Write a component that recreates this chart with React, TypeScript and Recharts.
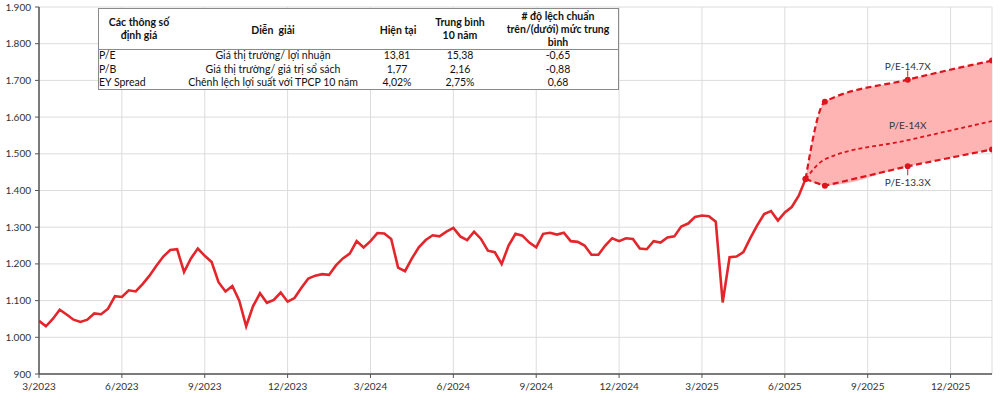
import { ComposedChart, Line, Area, XAxis, YAxis, CartesianGrid, LabelList } from 'recharts';

// VN-Index weekly closes (Mar 2023 -> late Jun 2025)
const vn2023 = [
  1045, 1030, 1050, 1075, 1062, 1048, 1042, 1048, 1065, 1063, 1078, 1112, 1110, 1128, 1125, 1145,
  1168, 1195, 1220, 1238, 1240, 1178, 1215, 1242, 1222, 1205, 1150, 1125, 1140, 1100, 1030, 1085,
  1120, 1094, 1102, 1122, 1097, 1107, 1135, 1160,
];
const vn2024 = [
  1168, 1172, 1170, 1196, 1215, 1228, 1262, 1245, 1262, 1284, 1283, 1268, 1190, 1180, 1215, 1245,
  1265, 1278, 1275, 1288, 1298, 1275, 1265, 1288, 1268, 1236, 1232, 1200, 1250, 1282, 1277, 1258,
  1245, 1282, 1285, 1280, 1285, 1262, 1260, 1250, 1225, 1225, 1250, 1270, 1262, 1270, 1268, 1242,
];
const vn2025 = [
  1240, 1262, 1258, 1272, 1275, 1302, 1310, 1328, 1332, 1330, 1315, 1095, 1218, 1220, 1232, 1270,
  1305, 1336, 1344, 1318, 1340, 1355, 1385, 1431,
];
const WEEK = 0.25; // in months

// P/E scenarios (months counted from 3/2023)
const projMonths = [27.75, 28.45, 31.45, 34.5];
const peHigh = [1431, 1642, 1702, 1754];
const peMid = [1431, 1485, 1537, 1589];
const peLow = [1431, 1413, 1466, 1512];
const highTags = ['', '', 'P/E-14.7X', ''];
const midTags = ['', '', 'P/E-14X', ''];
const lowTags = ['', '', 'P/E-13.3X', ''];

const quarterLabels = [
  '3/2023', '6/2023', '9/2023', '12/2023', '3/2024', '6/2024',
  '9/2024', '12/2024', '3/2025', '6/2025', '9/2025', '12/2025',
];
const yTicks = [900, 1000, 1100, 1200, 1300, 1400, 1500, 1600, 1700, 1800, 1900];

// valuation table
const tableMetric = ['P/E', 'P/B', 'EY Spread'];
const tableDesc = ['Giá thị trường/ lợi nhuận', 'Giá thị trường/ giá trị sổ sách', 'Chênh lệch lợi suất với TPCP 10 năm'];
const tableNow = ['13,81', '1,77', '4,02%'];
const tableAvg = ['15,38', '2,16', '2,75%'];
const tableStd = ['-0,65', '-0,88', '0,68'];

const closes = [...vn2023, ...vn2024, ...vn2025];
const data: any[] = closes.map((v, i) => ({ m: i * WEEK, vn: v }));
projMonths.forEach((m, i) => {
  const row = {
    m,
    high: peHigh[i],
    mid: peMid[i],
    low: peLow[i],
    band: [peLow[i], peHigh[i]],
    highTag: highTags[i],
    midTag: midTags[i],
    lowTag: lowTags[i],
  };
  if (i === 0) Object.assign(data[data.length - 1], row);
  else data.push(row);
});

const quarterTicks = quarterLabels.map((_, i) => i * 3);
const fmtMonth = (m: number) => quarterLabels[Math.round(m / 3)] ?? '';
const fmtVal = (v: number) =>
  v >= 1000 ? `${Math.floor(v / 1000)}.${String(v % 1000).padStart(3, '0')}` : String(v);

const FONT = 'Lato, "Open Sans", sans-serif';
const RED = '#e3262b';
const DASH_RED = '#dc141c';

const tagAbove = (props: any) => {
  const { x, y, value } = props;
  if (!value) return null;
  return (
    <g>
      <line x1={x} x2={x} y1={y - 3} y2={y - 9} stroke={DASH_RED} strokeWidth={1} />
      <text x={x} y={y - 14} textAnchor="middle" dominantBaseline="central" fontSize={10} fill="#333" fontFamily={FONT}>
        {value}
      </text>
    </g>
  );
};

const tagBelow = (props: any) => {
  const { x, y, value } = props;
  if (!value) return null;
  return (
    <g>
      <line x1={x} x2={x} y1={y + 3} y2={y + 9} stroke={DASH_RED} strokeWidth={1} />
      <text x={x} y={y + 16} textAnchor="middle" dominantBaseline="central" fontSize={10} fill="#333" fontFamily={FONT}>
        {value}
      </text>
    </g>
  );
};

const tagMid = (props: any) => {
  const { x, y, value } = props;
  if (!value) return null;
  return (
    <text x={x} y={y - 15} textAnchor="middle" dominantBaseline="central" fontSize={10} fill="#333" fontFamily={FONT}>
      {value}
    </text>
  );
};

function Cell({ cx, cy, children, bold, align }: any) {
  return (
    <div
      style={{
        position: 'absolute',
        left: cx,
        top: cy,
        transform: align === 'left' ? 'translate(0,-50%)' : 'translate(-50%,-50%)',
        whiteSpace: 'nowrap',
        textAlign: 'center',
        fontWeight: bold ? 700 : 400,
        lineHeight: '13px',
      }}
    >
      {children}
    </div>
  );
}

function ValuationTable() {
  const rowsY = [55, 68.5, 82];
  return (
    <div
      style={{
        position: 'absolute',
        left: 98,
        top: 8,
        width: 519,
        height: 80,
        background: '#fff',
        border: '1px solid #8a8a8a',
        fontFamily: FONT,
        fontSize: 10.5,
        color: '#111',
      }}
    >
      <div style={{ position: 'absolute', left: 0, right: 0, top: 40, borderTop: '1px solid #8a8a8a' }} />
      <Cell cx={40} cy={20} bold>Các thông số<br />định giá</Cell>
      <Cell cx={174} cy={21} bold>Diễn&nbsp; giải</Cell>
      <Cell cx={299} cy={21} bold>Hiện tại</Cell>
      <Cell cx={361} cy={20} bold>Trung bình<br />10 năm</Cell>
      <Cell cx={459} cy={20} bold># độ lệch chuẩn<br />trên/(dưới) mức trung<br />bình</Cell>
      {tableMetric.map((t, i) => (
        <div key={t}>
          <Cell cx={0} cy={rowsY[i] - 9} align="left">{t}</Cell>
          <Cell cx={174} cy={rowsY[i] - 9}>{tableDesc[i]}</Cell>
          <Cell cx={298} cy={rowsY[i] - 9}>{tableNow[i]}</Cell>
          <Cell cx={361} cy={rowsY[i] - 9}>{tableAvg[i]}</Cell>
          <Cell cx={459} cy={rowsY[i] - 9}>{tableStd[i]}</Cell>
        </div>
      ))}
    </div>
  );
}

export default function App() {
  return (
    <div style={{ position: 'absolute', left: 0, top: 0, width: 1000, height: 397, background: '#fff' }}>
      <ComposedChart width={1000} height={397} data={data} margin={{ top: 7, right: 8, left: 0, bottom: 3 }}>
        <CartesianGrid stroke="#dcdcdc" strokeWidth={1} />
        <XAxis
          type="number"
          dataKey="m"
          domain={[0, 34.5]}
          ticks={quarterTicks}
          interval={0}
          allowDataOverflow
          tickFormatter={fmtMonth}
          height={20}
          tickSize={4}
          tickMargin={5}
          tick={{ fontSize: 10, fill: '#333', fontFamily: FONT }}
          axisLine={{ stroke: '#555', strokeWidth: 1.5 }}
          tickLine={{ stroke: '#555' }}
        />
        <YAxis
          type="number"
          domain={[900, 1900]}
          ticks={yTicks}
          interval={0}
          width={39}
          tickFormatter={fmtVal}
          tickSize={4}
          tickMargin={4}
          tick={{ fontSize: 10, fill: '#333', fontFamily: FONT }}
          axisLine={{ stroke: '#555', strokeWidth: 1.5 }}
          tickLine={{ stroke: '#555' }}
        />
        <Area
          dataKey="band"
          type="monotone"
          fill="#ffb4b4"
          fillOpacity={1}
          stroke="none"
          isAnimationActive={false}
        />
        <Line
          dataKey="vn"
          type="linear"
          stroke={RED}
          strokeWidth={2.6}
          dot={false}
          isAnimationActive={false}
        />
        <Line
          dataKey="mid"
          type="monotone"
          stroke={DASH_RED}
          strokeWidth={1.8}
          strokeDasharray="4 3"
          dot={false}
          isAnimationActive={false}
        >
          <LabelList dataKey="midTag" content={tagMid} />
        </Line>
        <Line
          dataKey="high"
          type="monotone"
          stroke={DASH_RED}
          strokeWidth={2.2}
          strokeDasharray="6 3.5"
          dot={{ r: 3, fill: DASH_RED, stroke: 'none' }}
          isAnimationActive={false}
        >
          <LabelList dataKey="highTag" content={tagAbove} />
        </Line>
        <Line
          dataKey="low"
          type="linear"
          stroke={DASH_RED}
          strokeWidth={2.2}
          strokeDasharray="6 3.5"
          dot={{ r: 3, fill: DASH_RED, stroke: 'none' }}
          isAnimationActive={false}
        >
          <LabelList dataKey="lowTag" content={tagBelow} />
        </Line>
      </ComposedChart>
      <ValuationTable />
    </div>
  );
}
